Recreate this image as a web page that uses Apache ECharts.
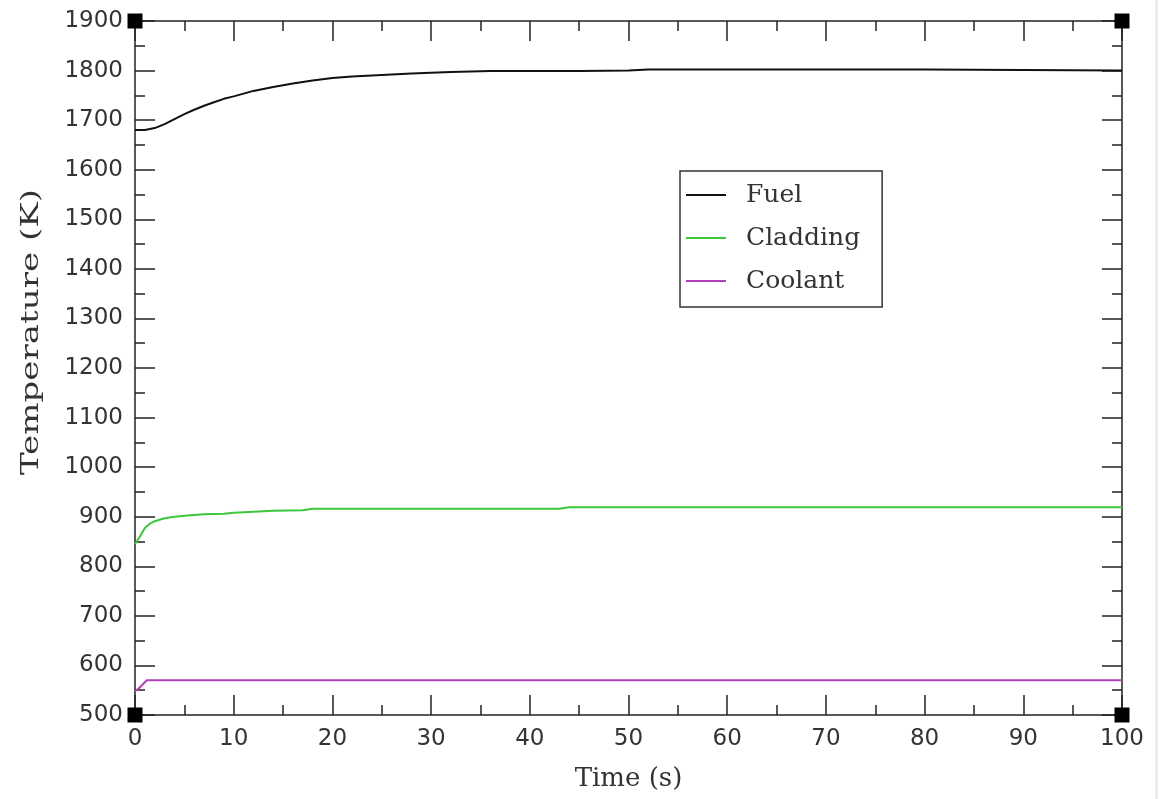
<!DOCTYPE html>
<html>
<head>
<meta charset="utf-8">
<script src="https://cdn.jsdelivr.net/npm/echarts@6/dist/echarts.min.js"></script>
<style>
  html, body { margin: 0; padding: 0; background: #fff; }
  #chart { width: 1168px; height: 799px; }
</style>
</head>
<body>
<div id="chart"></div>
<script>
// ---- data ----
const xTicks = [0, 10, 20, 30, 40, 50, 60, 70, 80, 90, 100];
const yTicks = [500, 600, 700, 800, 900, 1000, 1100, 1200, 1300, 1400, 1500, 1600, 1700, 1800, 1900];

const fuelTime = [0, 1, 2, 3, 4, 5, 6, 7, 8, 9, 10, 12, 14, 16, 18, 20, 22, 25, 28, 32, 36, 40, 45, 50, 52, 60, 70, 80, 90, 100];
const fuelTemp = [1680, 1680, 1684, 1692, 1702, 1712, 1721, 1729, 1736, 1743, 1748, 1759, 1767, 1774, 1780, 1785, 1788, 1791, 1794, 1797, 1799, 1799, 1799, 1800, 1802, 1802, 1802, 1802, 1801, 1800];

const claddingTime = [0, 0.2, 0.5, 1, 1.5, 2, 3, 4, 5, 7, 9, 10, 12, 14, 17, 18, 25, 35, 43, 44, 60, 80, 100];
const claddingTemp = [845, 848, 860, 877, 886, 891, 897, 900, 902, 905, 906, 908, 910, 912, 913, 916, 916, 916, 916, 919, 919, 919, 919];

const coolantTime = [0, 0.4, 1.2, 100];
const coolantTemp = [548, 554, 570, 570];

const cornerX = [0, 100, 0, 100];
const cornerY = [500, 500, 1900, 1900];

const seriesNames = ['Fuel', 'Cladding', 'Coolant'];
// ---------------

function pairs(xs, ys) { return xs.map((x, i) => [x, ys[i]]); }

const chart = echarts.init(document.getElementById('chart'));
const axisColor = '#222';
const labelFont = { fontFamily: 'DejaVu Sans', fontSize: 23, color: '#333', formatter: v => String(v) };

function baseAxis(extra) {
  return Object.assign({
    type: 'value',
    axisLine: { show: true, onZero: false, lineStyle: { color: axisColor, width: 1.5 } },
    axisTick: { show: true, inside: true, length: 20, lineStyle: { color: axisColor, width: 1.5 } },
    minorTick: { show: true, splitNumber: 2, length: 10, lineStyle: { color: axisColor, width: 1.5 } },
    splitLine: { show: false },
    minorSplitLine: { show: false }
  }, extra);
}

const lineIcon = 'path://M0,0 L40,0 L40,2 L0,2 Z';

const option = {
  backgroundColor: '#fff',
  animation: false,
  grid: { left: 135, right: 46, top: 21, bottom: 84 },
  xAxis: [
    baseAxis({ position: 'bottom', min: xTicks[0], max: xTicks[xTicks.length - 1], interval: 10,
      axisLabel: Object.assign({ margin: 13 }, labelFont),
      name: 'Time (s)', nameLocation: 'middle', nameGap: 51,
      nameTextStyle: { fontFamily: 'DejaVu Serif', fontSize: 26, color: '#333' } }),
    baseAxis({ position: 'top', min: xTicks[0], max: xTicks[xTicks.length - 1], interval: 10,
      axisLabel: { show: false } })
  ],
  yAxis: [
    baseAxis({ position: 'left', min: yTicks[0], max: yTicks[yTicks.length - 1], interval: 100,
      axisLabel: Object.assign({ margin: 12 }, labelFont) }),
    baseAxis({ position: 'right', min: yTicks[0], max: yTicks[yTicks.length - 1], interval: 100,
      axisLabel: { show: false } })
  ],
  legend: {
    orient: 'vertical',
    left: 680, top: 171,
    data: seriesNames.map(n => ({ name: n, icon: lineIcon })),
    itemWidth: 42, itemHeight: 2, itemGap: 17,
    padding: [11, 22, 13, 6],
    borderColor: '#333', borderWidth: 1.5,
    backgroundColor: '#fff',
    textStyle: { fontFamily: 'DejaVu Serif', fontSize: 25, color: '#333', lineHeight: 26, padding: [0, 0, 0, 14] }
  },
  graphic: [
    {
      type: 'text',
      x: 32, y: 332,
      rotation: Math.PI / 2,
      scaleX: 1.42,
      style: { text: 'Temperature (K)', fontFamily: 'DejaVu Serif', fontSize: 24, fill: '#333',
        align: 'center', verticalAlign: 'middle' }
    },
    { type: 'rect', shape: { x: 1155, y: 0, width: 3, height: 799 }, style: { fill: '#ececec' }, silent: true }
  ],
  series: [
    { name: seriesNames[0], type: 'line', symbol: 'none', data: pairs(fuelTime, fuelTemp),
      lineStyle: { color: '#111', width: 2 }, itemStyle: { color: '#111' } },
    { name: seriesNames[1], type: 'line', symbol: 'none', data: pairs(claddingTime, claddingTemp),
      lineStyle: { color: '#3cc83c', width: 2 }, itemStyle: { color: '#3cc83c' } },
    { name: seriesNames[2], type: 'line', symbol: 'none', data: pairs(coolantTime, coolantTemp),
      lineStyle: { color: '#b040b8', width: 2 }, itemStyle: { color: '#b040b8' } },
    { name: 'corners', type: 'scatter', symbol: 'rect', symbolSize: 15, clip: false, z: 10,
      data: pairs(cornerX, cornerY), itemStyle: { color: '#000', opacity: 1 }, silent: true }
  ]
};
chart.setOption(option);
</script>
</body>
</html>
